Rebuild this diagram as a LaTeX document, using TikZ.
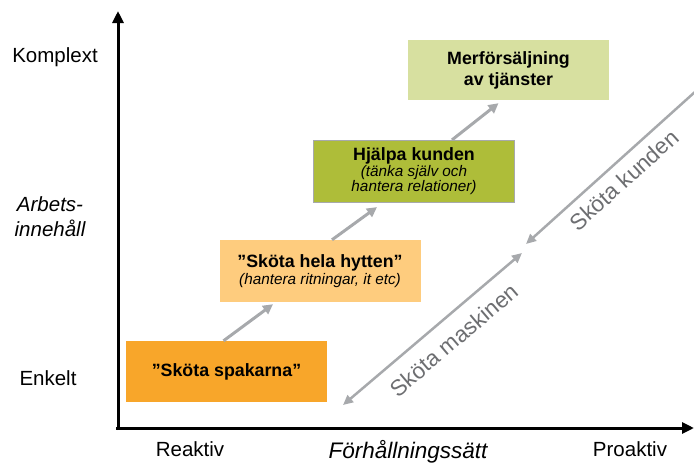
\documentclass[tikz,border=0pt]{standalone}
\usepackage{fontspec}
\setmainfont{Liberation Sans}
\usepackage{tikz}
\usetikzlibrary{calc,arrows.meta}

\definecolor{spakorange}{HTML}{F8A62A}
\definecolor{hyttorange}{HTML}{FECC7E}
\definecolor{hjalpgreen}{HTML}{AEBD39}
\definecolor{mergreen}{HTML}{D7E0A0}
\definecolor{arrowgray}{HTML}{A7A9AC}
\definecolor{textgray}{HTML}{6D6E71}

\begin{document}
\begin{tikzpicture}[x=1pt, y=-1pt,
        axis/.style={line width=3pt, -{Triangle[length=12pt,width=11pt]}},
        stepbox/.style={minimum width=201pt, minimum height=61pt, inner sep=0pt, align=center},
        steparrow/.style={arrowgray, line width=3pt, -{Triangle[length=10pt,width=10pt]}},
        diag/.style={arrowgray, line width=2.5pt},
        axlabel/.style={font=\fontsize{20.5}{24}\selectfont, align=center},
        ttl/.style={font=\fontsize{17.8}{20}\selectfont\bfseries}]
        \useasboundingbox (0, 0) rectangle (694, 464);

        \coordinate (o) at (118, 428);
        \coordinate (ytop) at (118, 11);
        \coordinate (xend) at (694, 428);
        \draw[axis] ($(o)+(0,2)$) -- (ytop);
        \draw[axis] ($(o)+(-2,0)$) -- (xend);

        \node[axlabel] (komplex) at (55, 57) {Komplext};
        \node[axlabel, font=\fontsize{20.5}{25}\selectfont\itshape] (arbete) at (50, 217) {Arbets-\\innehåll};
        \node[axlabel] (enkel) at (48, 378) {Enkelt};
        \node[axlabel] (reakt) at (190, 449) {Reaktiv};
        \node[axlabel, font=\fontsize{22.5}{26}\selectfont\itshape] (forh) at (408, 452) {Förhållningssätt};
        \node[axlabel] (proakt) at (630, 449) {Proaktiv};

        \node[stepbox, fill=spakorange, ttl] (spak) at (226.5, 371.5) {”Sköta spakarna”};
        \node[stepbox, fill=hyttorange, minimum height=62pt] (hytt) at (320, 271)
            {{\fontsize{17.8}{20}\selectfont\bfseries ”Sköta hela hytten”}\\[1pt]
             {\fontsize{15.3}{17}\selectfont\itshape (hantera ritningar, it etc)}};
        \node[stepbox, fill=hjalpgreen, draw=arrowgray, line width=1.2pt, minimum height=62pt] (hjalp) at (414, 171.5)
            {{\fontsize{17.8}{19}\selectfont\bfseries Hjälpa kunden}\\[0pt]
             {\fontsize{15.3}{17}\selectfont\itshape (tänka själv och}\\[0pt]
             {\fontsize{15.3}{17}\selectfont\itshape hantera relationer)}};
        \node[stepbox, fill=mergreen, minimum height=60pt, ttl, font=\fontsize{17.8}{21}\selectfont\bfseries] (mer) at (508.5, 70)
            {Merförsäljning\\av tjänster};

        \draw[steparrow] ([xshift=-3pt]spak.north) -- ([xshift=-47pt, yshift=-2pt]hytt.south);
        \draw[steparrow] ([xshift=12pt]hytt.north) -- ([xshift=-37pt, yshift=-4pt]hjalp.south);
        \draw[steparrow] ([xshift=38pt]hjalp.north) -- ([xshift=-10pt, yshift=-3pt]mer.south);

        \coordinate (m1) at (343, 405);
        \coordinate (m2) at (522, 253);
        \coordinate (k1) at (526, 244);
        \coordinate (k2) at (696, 91);
        \draw[diag, {Triangle[length=10pt,width=9pt]}-{Triangle[length=10pt,width=9pt]}] (m1) -- (m2);
        \draw[diag, {Triangle[length=10pt,width=9pt]}-] (k1) -- (k2);

        \node[axlabel, textgray, rotate=40.5, font=\fontsize{22.5}{26}\selectfont] (maskin) at (454, 340) {Sköta maskinen};
        \node[axlabel, textgray, rotate=42, font=\fontsize{22.5}{26}\selectfont] (kund) at (624, 180) {Sköta kunden};
\end{tikzpicture}
\end{document}
